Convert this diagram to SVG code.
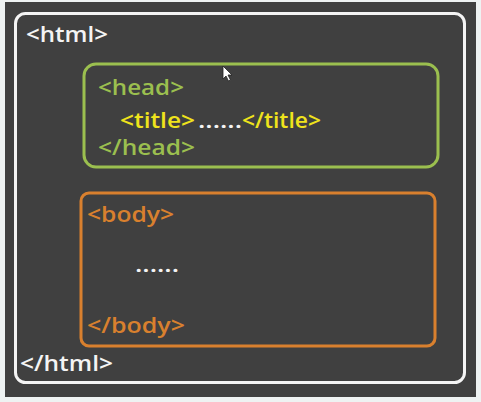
<svg xmlns="http://www.w3.org/2000/svg" width="481" height="402" viewBox="0 0 481 402">
<style>
  text { font-family: "Open Sans", "Noto Sans", "DejaVu Sans", sans-serif; font-size: 22px; font-weight: 600; }
  .w { fill: #f4f4f4; }
  .g { fill: #9bbf4f; }
  .y { fill: #efe31c; }
  .o { fill: #d9802e; }
  .box { fill: none; }
</style>
<rect x="0" y="0" width="481" height="402" fill="#eef2f2"/>
<rect x="5" y="2" width="471" height="395" fill="#404040"/>
<g id="html">
  <rect class="box" x="15.5" y="13.5" width="449" height="369" rx="10" stroke="#f4f4f4" stroke-width="3"/>
  <text class="w" x="26" y="42" textLength="82" lengthAdjust="spacingAndGlyphs">&lt;html&gt;</text>
  <text class="w" x="20" y="371" textLength="93" lengthAdjust="spacingAndGlyphs">&lt;/html&gt;</text>
</g>
<g id="head">
  <rect class="box" x="84" y="64" width="354" height="103" rx="12" stroke="#9bbf4f" stroke-width="3"/>
  <text class="g" x="98" y="95" font-size="21" textLength="86" lengthAdjust="spacingAndGlyphs">&lt;head&gt;</text>
  <text class="g" x="98" y="155" font-size="21" textLength="97" lengthAdjust="spacingAndGlyphs">&lt;/head&gt;</text>
</g>
<g id="title">
  <text class="y" x="120" y="128" font-size="21" font-weight="700" textLength="75" lengthAdjust="spacingAndGlyphs">&lt;title&gt;</text>
  <text class="w" x="198" y="128" font-size="21" font-weight="700" textLength="44" lengthAdjust="spacingAndGlyphs">......</text>
  <text class="y" x="242" y="128" font-size="21" textLength="79" lengthAdjust="spacingAndGlyphs">&lt;/title&gt;</text>
</g>
<g id="body">
  <rect class="box" x="81" y="193" width="354" height="153" rx="8" stroke="#d9802e" stroke-width="3"/>
  <text class="o" x="87" y="222" textLength="87" lengthAdjust="spacingAndGlyphs">&lt;body&gt;</text>
  <text class="w" x="135" y="272" font-size="21" font-weight="700" textLength="44" lengthAdjust="spacingAndGlyphs">......</text>
  <text class="o" x="87" y="333" textLength="98" lengthAdjust="spacingAndGlyphs">&lt;/body&gt;</text>
</g>
<g id="cursor">
  <path d="M223,66 L223,79 L226,76 L228.5,81 L230.5,80 L228,75 L232,75 Z" fill="#ffffff" stroke="#222" stroke-width="0.8"/>
</g>
</svg>
